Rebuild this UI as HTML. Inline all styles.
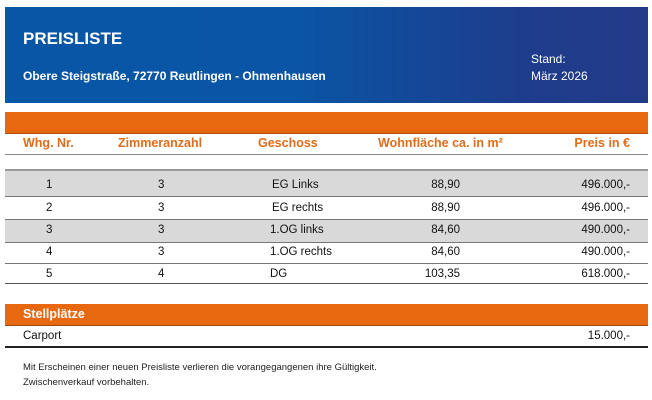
<!DOCTYPE html>
<html><head><meta charset="utf-8"><style>
body{margin:0;width:652px;height:400px;background:#fff;font-family:"Liberation Sans",sans-serif;position:relative;overflow:hidden}
.a{position:absolute;white-space:nowrap}
.hd{color:#e06c1c;font-weight:bold;font-size:12.5px;top:136px}
.r{font-size:11.5px;color:#111}
.line{position:absolute;left:5px;width:643px}
</style></head><body>
<div class="a" style="left:5px;top:7px;width:643px;height:96px;background:linear-gradient(90deg,#0a56a6 0%,#0a55a5 45%,#1d3d8c 80%,#233a88 100%)"></div>
<div class="a" style="left:23px;top:29px;color:#fff;font-weight:bold;font-size:17px">PREISLISTE</div>
<div class="a" style="left:23px;top:69px;color:#fff;font-weight:bold;font-size:12px">Obere Steigstraße, 72770 Reutlingen - Ohmenhausen</div>
<div class="a" style="left:531px;top:52px;color:#fff;font-size:12px">Stand:</div>
<div class="a" style="left:531px;top:69px;color:#fff;font-size:12px">März 2026</div>
<div class="a" style="left:5px;top:112px;width:643px;height:21px;background:#e8680f"></div>
<div class="line" style="top:133px;height:1px;background:#b05010"></div>
<div class="a hd" style="left:23px">Whg. Nr.</div>
<div class="a hd" style="left:118px">Zimmeranzahl</div>
<div class="a hd" style="left:258px">Geschoss</div>
<div class="a hd" style="left:378px">Wohnfläche ca. in m²</div>
<div class="a hd" style="right:22px">Preis in €</div>
<div class="line" style="top:154px;height:1px;background:#888"></div>
<div class="line" style="top:169px;height:2px;background:#999"></div>
<div class="line" style="top:171px;height:25px;background:#d9d9d9"></div>
<div class="line" style="top:196px;height:1px;background:#777"></div>
<div class="line" style="top:219px;height:22px;background:#d9d9d9;border-top:1px solid #777;border-bottom:1px solid #777"></div>
<div class="line" style="top:263px;height:1px;background:#777"></div>
<div class="line" style="top:283px;height:1px;background:#555"></div>
<div class="a r" style="left:46px;top:179px">1</div><div class="a r" style="left:158px;top:179px">3</div><div class="a r" style="left:272px;top:179px">EG Links</div><div class="a r" style="right:192px;top:179px">88,90</div><div class="a r" style="right:22px;top:179px">496.000,-</div>
<div class="a r" style="left:46px;top:202px">2</div><div class="a r" style="left:158px;top:202px">3</div><div class="a r" style="left:272px;top:202px">EG rechts</div><div class="a r" style="right:192px;top:202px">88,90</div><div class="a r" style="right:22px;top:202px">496.000,-</div>
<div class="a r" style="left:46px;top:224px">3</div><div class="a r" style="left:158px;top:224px">3</div><div class="a r" style="left:270px;top:224px">1.OG links</div><div class="a r" style="right:192px;top:224px">84,60</div><div class="a r" style="right:22px;top:224px">490.000,-</div>
<div class="a r" style="left:46px;top:246px">4</div><div class="a r" style="left:158px;top:246px">3</div><div class="a r" style="left:270px;top:246px">1.OG rechts</div><div class="a r" style="right:192px;top:246px">84,60</div><div class="a r" style="right:22px;top:246px">490.000,-</div>
<div class="a r" style="left:46px;top:268px">5</div><div class="a r" style="left:158px;top:268px">4</div><div class="a r" style="left:270px;top:268px">DG</div><div class="a r" style="right:192px;top:268px">103,35</div><div class="a r" style="right:22px;top:268px">618.000,-</div>
<div class="a" style="left:5px;top:304px;width:643px;height:21px;background:#e8680f;border-bottom:1px solid #a04a10"></div>
<div class="a" style="left:23px;top:307px;color:#fff;font-weight:bold;font-size:12.5px">Stellplätze</div>
<div class="a r" style="left:23px;top:330px">Carport</div>
<div class="a r" style="right:22px;top:330px">15.000,-</div>
<div class="line" style="top:346px;height:2px;background:#222"></div>
<div class="a" style="left:23px;top:362px;font-size:9.5px;color:#222">Mit Erscheinen einer neuen Preisliste verlieren die vorangegangenen ihre Gültigkeit.</div>
<div class="a" style="left:23px;top:377px;font-size:9.5px;color:#222">Zwischenverkauf vorbehalten.</div>
</body></html>
